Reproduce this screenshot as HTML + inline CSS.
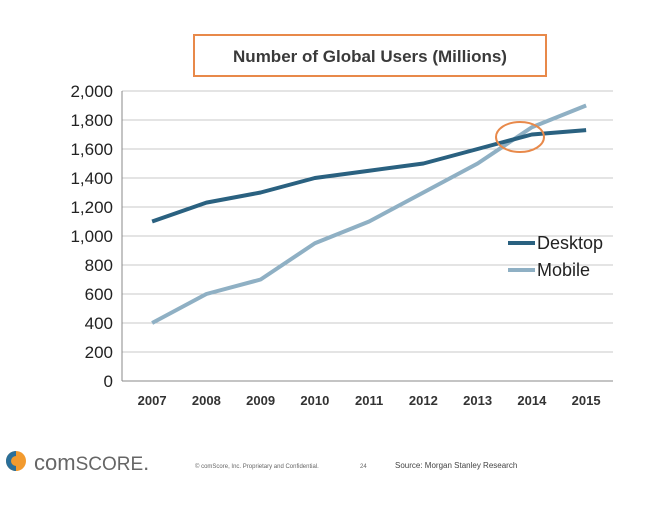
<!DOCTYPE html>
<html><head><meta charset="utf-8"><style>
body{margin:0;background:#fff;width:658px;height:500px;overflow:hidden;font-family:"Liberation Sans",sans-serif}
</style></head><body>
<svg width="658" height="500">
<rect x="194" y="35" width="352" height="41" fill="#fff" stroke="#e8894a" stroke-width="2"/>
<text x="370" y="62" text-anchor="middle" font-size="17" font-weight="bold" fill="#3a3a3a">Number of Global Users (Millions)</text>
<g id="grid"></g><g id="lines"></g>
<ellipse cx="520" cy="137" rx="24" ry="15" fill="none" stroke="#e8894a" stroke-width="2"/>
<line x1="508" y1="243" x2="535" y2="243" stroke="#2a6180" stroke-width="4"/>
<text x="537" y="249" font-size="18" fill="#222">Desktop</text>
<line x1="508" y1="270" x2="535" y2="270" stroke="#8fb0c4" stroke-width="4"/>
<text x="537" y="276" font-size="18" fill="#222">Mobile</text>
<g>
<circle cx="16" cy="461" r="10" fill="#f29a2e"/><path d="M16 451 A10 10 0 0 0 16 471 L16 466 A5 5 0 0 1 16 456Z" fill="#2a6f9a"/>
<text x="34" y="470" font-size="22" fill="#666">com<tspan font-size="19">SCORE</tspan>.</text></g>
<text x="195" y="468" font-size="6" fill="#666">© comScore, Inc. Proprietary and Confidential.</text>
<text x="360" y="468" font-size="6" fill="#666">24</text>
<text x="395" y="468" font-size="8" fill="#444">Source: Morgan Stanley Research</text>
</svg>
<script>
const years=["2007","2008","2009","2010","2011","2012","2013","2014","2015"];
const desktop=[1100,1230,1300,1400,1450,1500,1600,1700,1730];
const mobile=[400,600,700,950,1100,1300,1500,1750,1900];
const yTicks=[0,200,400,600,800,1000,1200,1400,1600,1800,2000];
const NS="http://www.w3.org/2000/svg";
const x0=122,x1=613,yT=91,yB=381,ymax=2000;
const bw=54.25, xStart=125;
const xs=i=>xStart+bw*(i+0.5), ys=v=>yB-(v/ymax)*(yB-yT);
const g=document.getElementById('grid'),L=document.getElementById('lines');
function mk(t,a,p){const e=document.createElementNS(NS,t);for(const k in a)e.setAttribute(k,a[k]);p.appendChild(e);return e;}
yTicks.forEach(v=>{
 const l=mk('line',{x1:x0,x2:x1,y1:ys(v),y2:ys(v),stroke:v?'#c8c8c8':'#888','stroke-width':1},g);
 
 
 const t=mk('text',{x:x0-9,y:ys(v)+6,'text-anchor':'end','font-size':17,fill:'#222'},g);
 t.textContent=v.toLocaleString('en-US');
 
 
});
const ax=mk('line',{x1:x0,x2:x0,y1:yT,y2:yB,stroke:'#888'},g);


years.forEach((y,i)=>{
 const t=mk('text',{x:xs(i),y:405,'text-anchor':'middle','font-size':13,'font-weight':'bold',fill:'#333'},g);
 t.textContent=y;
 
 
});
[[mobile,'#8fb0c4','mobile-line'],[desktop,'#2a6180','desktop-line']].forEach(([d,c,n])=>{
 const p=mk('polyline',{points:d.map((v,i)=>xs(i)+','+ys(v)).join(' '),fill:'none',stroke:c,'stroke-width':4,'stroke-linejoin':'round'},L);
 
 
});
</script>
</body></html>
